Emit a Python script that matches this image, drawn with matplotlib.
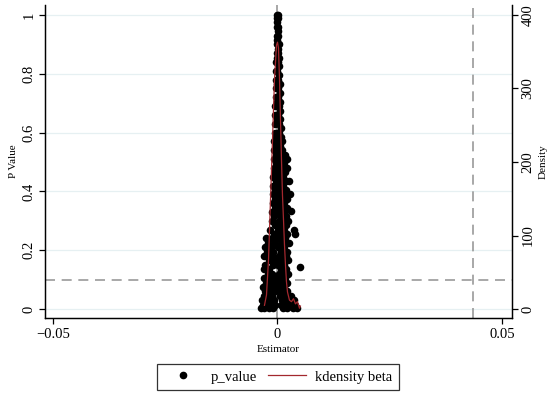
import matplotlib
matplotlib.use("Agg")
import matplotlib.pyplot as plt
from matplotlib.lines import Line2D

plt.rcParams['font.family'] = ['Liberation Serif', 'DejaVu Serif']

# estimated (beta, p-value) pairs, one row per p level
p_value = [
    1.000, 1.000,
    0.990, 0.990,
    0.975,
    0.960, 0.960,
    0.945,
    0.930, 0.930,
    0.915,
    0.900, 0.900,
    0.885,
    0.870, 0.870,
    0.855, 0.855,
    0.840, 0.840,
    0.825,
    0.810, 0.810,
    0.795,
    0.780, 0.780,
    0.765, 0.765,
    0.750, 0.750,
    0.735,
    0.720, 0.720,
    0.705, 0.705,
    0.690, 0.690,
    0.675,
    0.660, 0.660,
    0.645, 0.645,
    0.630, 0.630,
    0.615,
    0.600, 0.600, 0.600,
    0.585, 0.585,
    0.570, 0.570, 0.570,
    0.555, 0.555,
    0.540, 0.540, 0.540,
    0.525, 0.525, 0.525,
    0.510, 0.510, 0.510, 0.510,
    0.495, 0.495, 0.495,
    0.480, 0.480, 0.480, 0.480,
    0.465, 0.465, 0.465,
    0.450, 0.450, 0.450,
    0.435, 0.435, 0.435, 0.435,
    0.420, 0.420, 0.420,
    0.405, 0.405, 0.405,
    0.390, 0.390, 0.390, 0.390,
    0.375, 0.375, 0.375,
    0.360, 0.360, 0.360,
    0.345, 0.345, 0.345,
    0.335,
    0.330, 0.330, 0.330,
    0.315, 0.315, 0.315,
    0.300, 0.300, 0.300, 0.300,
    0.285, 0.285, 0.285,
    0.270, 0.270, 0.270, 0.270,
    0.255, 0.255, 0.255, 0.255,
    0.240, 0.240, 0.240, 0.240,
    0.225, 0.225, 0.225, 0.225,
    0.210, 0.210, 0.210, 0.210,
    0.195, 0.195, 0.195, 0.195,
    0.180, 0.180, 0.180, 0.180,
    0.165, 0.165, 0.165, 0.165,
    0.150, 0.150, 0.150, 0.150,
    0.143,
    0.135, 0.135, 0.135, 0.135,
    0.120, 0.120, 0.120, 0.120, 0.120,
    0.105, 0.105, 0.105, 0.105, 0.105,
    0.090, 0.090, 0.090, 0.090, 0.090,
    0.075, 0.075, 0.075, 0.075, 0.075,
    0.060, 0.060, 0.060, 0.060, 0.060, 0.060,
    0.045, 0.045, 0.045, 0.045, 0.045, 0.045,
    0.030, 0.030, 0.030, 0.030, 0.030, 0.030, 0.030,
    0.015, 0.015, 0.015, 0.015, 0.015, 0.015, 0.015, 0.015,
    0.005, 0.005, 0.005, 0.005, 0.005, 0.005, 0.005, 0.005,
]
beta = [
    0.0000, 0.0001,
    -0.0001, 0.0002,
    0.0000,
    -0.0001, 0.0002,
    0.0001,
    -0.0002, 0.0002,
    0.0000,
    -0.0002, 0.0003,
    0.0001,
    -0.0002, 0.0002,
    0.0000, 0.0004,
    -0.0003, 0.0001,
    0.0003,
    -0.0003, 0.0000,
    0.0004,
    -0.0003, 0.0001,
    0.0005, -0.0001,
    -0.0004, 0.0002,
    0.0005,
    -0.0004, 0.0001,
    0.0006, -0.0001,
    -0.0005, 0.0003,
    0.0006,
    -0.0005, 0.0001,
    0.0006, -0.0002,
    -0.0006, 0.0003,
    0.0007,
    -0.0006, 0.0000, 0.0004,
    0.0007, -0.0003,
    -0.0007, 0.0002, 0.0009,
    0.0006, -0.0004,
    -0.0007, 0.0001, 0.0010,
    0.0005, -0.0003, 0.0017,
    -0.0008, 0.0002, 0.0011, 0.0021,
    0.0006, -0.0004, 0.0015,
    -0.0008, 0.0000, 0.0010, 0.0022,
    0.0005, -0.0005, 0.0016,
    -0.0009, 0.0002, 0.0012,
    0.0007, -0.0004, 0.0019, 0.0025,
    -0.0010, 0.0001, 0.0013,
    0.0008, -0.0005, 0.0020,
    -0.0010, 0.0003, 0.0014, 0.0027,
    0.0009, -0.0006, 0.0021,
    -0.0011, 0.0002, 0.0015,
    0.0007, -0.0005, 0.0022,
    0.0030,
    -0.0012, 0.0001, 0.0014,
    0.0008, -0.0007, 0.0019,
    -0.0013, 0.0003, 0.0016, 0.0024,
    0.0009, -0.0006, 0.0020,
    -0.0016, 0.0002, 0.0014, 0.0036,
    0.0007, -0.0008, 0.0022, 0.0038,
    -0.0026, -0.0012, 0.0004, 0.0017,
    0.0010, -0.0005, 0.0025, -0.0021,
    -0.0015, 0.0002, 0.0014, -0.0028,
    0.0008, -0.0009, 0.0021, -0.0024,
    -0.0013, 0.0004, 0.0018, -0.0029,
    0.0011, -0.0006, 0.0023, -0.0019,
    -0.0011, 0.0001, 0.0015, -0.0027,
    0.0051,
    0.0008, -0.0018, 0.0020, -0.0031,
    -0.0012, 0.0003, 0.0012, -0.0022, 0.0024,
    0.0007, -0.0007, 0.0017, -0.0030, -0.0016,
    -0.0015, 0.0001, 0.0010, -0.0026, 0.0022,
    0.0006, -0.0010, 0.0014, -0.0020, -0.0032,
    -0.0016, 0.0003, 0.0009, -0.0027, 0.0021, -0.0006,
    0.0005, -0.0012, 0.0015, -0.0031, 0.0030, -0.0022,
    -0.0020, -0.0008, 0.0010, -0.0029, 0.0025, 0.0036, -0.0034,
    -0.0014, -0.0024, 0.0007, 0.0018, -0.0033, 0.0040, 0.0028, -0.0005,
    -0.0030, -0.0018, -0.0009, 0.0012, 0.0022, 0.0034, -0.0036, 0.0044,
]

# kernel density of beta (right axis)
kd_x = [-0.0029, -0.00245, -0.0020, -0.00156, -0.00111, -0.00067, -0.00022,
        0.0, 0.00022, 0.00045, 0.00067, 0.00089, 0.00111, 0.00134, 0.00156,
        0.00178, 0.0020, 0.00223, 0.00267, 0.00312, 0.00356, 0.0040,
        0.00445, 0.0049, 0.0051]
kd_y = [5, 19, 67, 148, 230, 312, 359, 363, 355, 312, 257, 203, 155, 121, 87,
        60, 37, 23, 12, 10, 14, 7, 10, 1, 4]

x_ticks = [-0.05, 0, 0.05]
x_tick_labels = ['\u22120.05', '0', '0.05']
p_ticks = [0, 0.2, 0.4, 0.6, 0.8, 1]
p_tick_labels = ['0', '0.2', '0.4', '0.6', '0.8', '1']
d_ticks = [0, 100, 200, 300, 400]

p_cut = 0.1
beta_ref = 0.0435

fig = plt.figure(figsize=(5.5, 3.93), dpi=100)
ax = fig.add_axes([45 / 550, 1 - 318 / 393, 467 / 550, 313 / 393])
ax2 = ax.twinx()

ymin, ymax = -0.0306, 1.034
ax.set_xlim(-0.05178, 0.05223)
ax.set_ylim(ymin, ymax)
ax2.set_ylim(ymin * 400, ymax * 400)

# grid lines and reference lines
for t in p_ticks:
    ax.axhline(t, color='#e6f0f2', lw=0.9, zorder=0)
ax.axvline(0, color='#909090', lw=1.1, zorder=1)
ax.axhline(p_cut, color='#999999', lw=1.2, ls=(0, (6, 4)), zorder=1)
ax.axvline(beta_ref, color='#999999', lw=1.2, ls=(0, (6, 4)), zorder=1)

ax.scatter(beta, p_value, s=30, color='black', linewidths=0, zorder=3)
ax2.plot(kd_x, kd_y, color='#a3282e', lw=0.9, zorder=4)
ax.set_zorder(ax2.get_zorder() - 1)
ax.patch.set_visible(True)
ax2.patch.set_visible(False)

ax.set_xticks(x_ticks)
ax.set_xticklabels(x_tick_labels)
ax.set_yticks(p_ticks)
ax.set_yticklabels(p_tick_labels, rotation=90, va='center')
ax2.set_yticks(d_ticks)
ax2.set_yticklabels([str(t) for t in d_ticks], rotation=90, va='center')

for a in (ax, ax2):
    a.spines['top'].set_visible(False)
    a.tick_params(direction='out', length=4, width=0.9, labelsize=10.5, pad=3)
    for s in a.spines.values():
        s.set_linewidth(0.9)

ax.set_xlabel('Estimator', fontsize=8, labelpad=3)
ax.set_ylabel('P Value', fontsize=8, labelpad=3)
ax2.set_ylabel('Density', fontsize=8, labelpad=3)

handles = [
    Line2D([], [], ls='none', marker='o', color='black', markersize=4.5),
    Line2D([], [], color='#a3282e', lw=0.9),
]
leg = fig.legend(handles, ['p_value', 'kdensity beta'], loc='center',
                 bbox_to_anchor=(278 / 550, 1 - 377 / 393), ncol=2,
                 fontsize=10.5, frameon=True, fancybox=False,
                 handlelength=2.6, columnspacing=0.8, handletextpad=0.6,
                 borderpad=0.45, borderaxespad=0)
leg.get_frame().set_edgecolor('black')
leg.get_frame().set_linewidth(0.9)

fig.savefig('out.png', dpi=100)
